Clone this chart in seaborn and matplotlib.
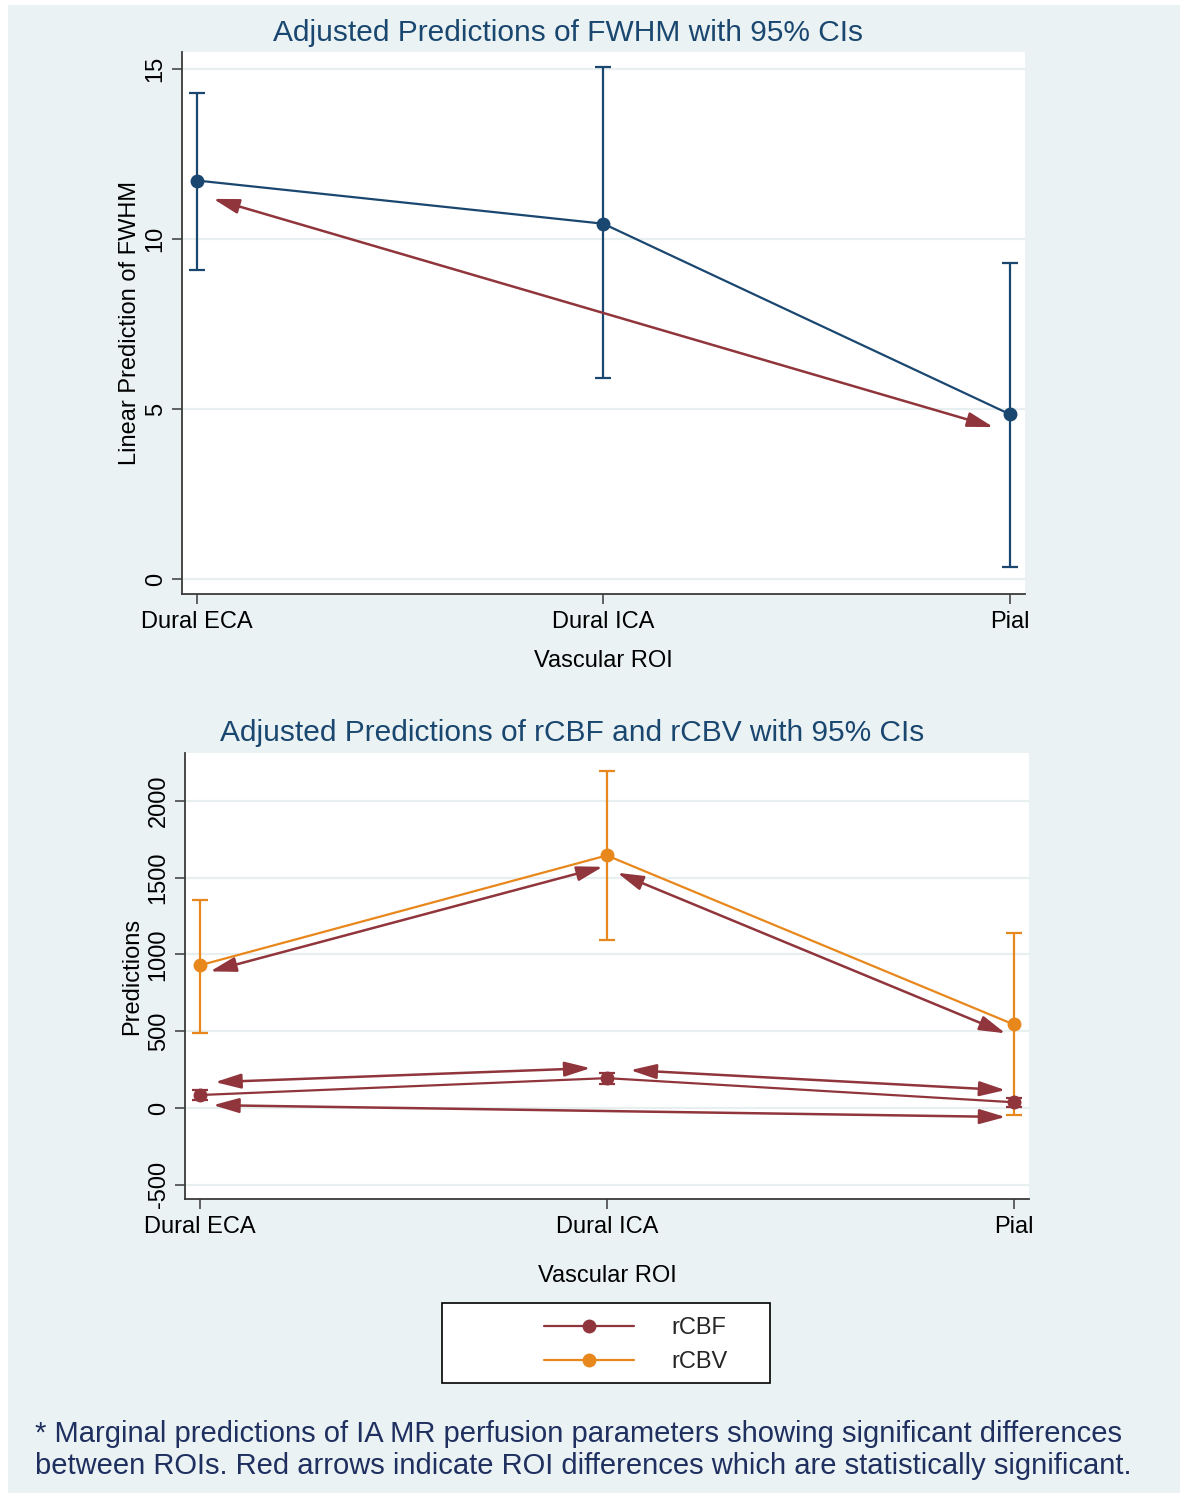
import numpy as np
import pandas as pd
import matplotlib
matplotlib.use("Agg")
import matplotlib.pyplot as plt
import seaborn as sns
from matplotlib.patches import Rectangle
from matplotlib.lines import Line2D

# ---------------- data ----------------
rois = ["Dural ECA", "Dural ICA", "Pial"]

fwhm_pred = [11.72, 10.45, 4.85]
fwhm_lo = [9.1, 5.9, 0.35]
fwhm_hi = [14.3, 15.05, 9.3]

rcbf_pred = [85, 195, 38]
rcbf_lo = [55, 160, 10]
rcbf_hi = [115, 230, 66]

rcbv_pred = [930, 1645, 545]
rcbv_lo = [492, 1092, -45]
rcbv_hi = [1358, 2195, 1143]

# significant-difference arrows (start, end) in data units (x = ROI index)
fwhm_arrows = [((0.04, 11.18), (1.96, 4.47))]
perf_arrows = [
    ((0.025, 890), (0.99, 1571)),
    ((1.026, 1532), (1.98, 487)),
    ((0.037, 169), (0.96, 260)),
    ((1.058, 247), (1.98, 117)),
    ((0.032, 19), (1.98, -58)),
]

fwhm_yticks = [0, 5, 10, 15]
perf_yticks = [-500, 0, 500, 1000, 1500, 2000]

title1 = "Adjusted Predictions of FWHM with 95% CIs"
title2 = "Adjusted Predictions of rCBF and rCBV with 95% CIs"
caption = ("* Marginal predictions of IA MR perfusion parameters showing significant differences\n"
           "between ROIs. Red arrows indicate ROI differences which are statistically significant.")

# ---------------- style ----------------
NAVY = "#1a476f"
CRAN = "#90353b"
ORANGE = "#e8871b"
BG = "#eaf2f3"
GRID = "#e8eff1"
SPINE = "#3a3a3a"

sns.set_theme(style="white")
plt.rcParams["font.family"] = ["Liberation Sans", "DejaVu Sans"]
FS = 17

W, H = 1186, 1498
fig = plt.figure(figsize=(W / 100, H / 100), dpi=100, facecolor="white")
fig.patches.append(Rectangle((8 / W, 5 / H), (1180 - 8) / W, (1493 - 5) / H,
                             transform=fig.transFigure, facecolor=BG,
                             edgecolor="none", zorder=-5))


def ax_rect(l, t, r, b):
    return [l / W, 1 - b / H, (r - l) / W, (b - t) / H]


ax1 = fig.add_axes(ax_rect(182, 52, 1025, 594))
ax2 = fig.add_axes(ax_rect(185, 753, 1029, 1199))

xpos = np.arange(len(rois))


def style_axes(ax, yticks, ylim, ylabel, xlabelpad):
    ax.set_facecolor("white")
    ax.set_xlim(-0.037, 2.038)
    ax.set_ylim(*ylim)
    ax.set_yticks(yticks)
    ax.set_yticklabels([str(v) for v in yticks])
    ax.set_xticks(xpos)
    ax.set_xticklabels(rois)
    for lab in ax.get_yticklabels():
        lab.set_rotation(90)
        lab.set_verticalalignment("center")
    for y in yticks:
        ax.axhline(y, color=GRID, lw=1.6, zorder=0)
    for s in ["top", "right"]:
        ax.spines[s].set_visible(False)
    for s in ["left", "bottom"]:
        ax.spines[s].set_color(SPINE)
        ax.spines[s].set_linewidth(1.3)
    ax.tick_params(axis="both", which="major", direction="out", length=7,
                   width=1.1, color=SPINE, labelsize=FS, labelcolor="black",
                   left=True, bottom=True)
    ax.tick_params(axis="y", pad=4)
    ax.tick_params(axis="x", pad=5.5)
    ax.set_xlabel("Vascular ROI", fontsize=FS, color="black", labelpad=xlabelpad)
    ax.set_ylabel(ylabel, fontsize=FS, color="black", labelpad=3)
    ax.grid(False)


def draw_series(ax, pred, lo, hi, color, ms, z):
    df = pd.DataFrame({"x": xpos, "y": pred})
    sns.lineplot(data=df, x="x", y="y", ax=ax, color=color, lw=1.6,
                 marker="o", markersize=ms, markeredgewidth=0,
                 errorbar=None, zorder=z)
    pred = np.asarray(pred, float)
    yerr = [pred - np.asarray(lo, float), np.asarray(hi, float) - pred]
    ax.errorbar(xpos, pred, yerr=yerr, fmt="none", ecolor=color,
                elinewidth=1.6, capsize=6, capthick=1.6, zorder=z)


def draw_arrows(ax, arrows):
    for (x0, y0), (x1, y1) in arrows:
        ax.annotate("", xy=(x1, y1), xytext=(x0, y0),
                    arrowprops=dict(arrowstyle="<|-|>,head_length=1.05,head_width=0.3",
                                    mutation_scale=15, color=CRAN, lw=1.8,
                                    shrinkA=0, shrinkB=0), zorder=4)


# ---- panel 1 ----
draw_series(ax1, fwhm_pred, fwhm_lo, fwhm_hi, NAVY, 10, 3)
draw_arrows(ax1, fwhm_arrows)
style_axes(ax1, fwhm_yticks, (-0.44, 15.5), "Linear Prediction of FWHM", 12)

# ---- panel 2 ----
draw_series(ax2, rcbv_pred, rcbv_lo, rcbv_hi, ORANGE, 10, 3)
draw_series(ax2, rcbf_pred, rcbf_lo, rcbf_hi, CRAN, 10, 5)
draw_arrows(ax2, perf_arrows)
style_axes(ax2, perf_yticks, (-592, 2312), "Predictions", 19)

# titles
fig.text(568 / W, 1 - 33 / H, title1, ha="center", va="center",
         fontsize=21.5, color=NAVY)
fig.text(572 / W, 1 - 733 / H, title2, ha="center", va="center",
         fontsize=21.5, color=NAVY)

# legend
fig.patches.append(Rectangle((442 / W, 1 - 1383 / H), 328 / W, 80 / H,
                             transform=fig.transFigure, facecolor="white",
                             edgecolor="black", lw=1.2, zorder=1))
handles = [Line2D([], [], color=CRAN, lw=1.6, marker="o", markersize=10, markeredgewidth=0),
           Line2D([], [], color=ORANGE, lw=1.6, marker="o", markersize=10, markeredgewidth=0)]
fig.legend(handles, ["rCBF", "rCBV"], loc="center",
           bbox_to_anchor=(636 / W, 1 - 1345 / H), frameon=False,
           fontsize=FS, handlelength=3.8, handletextpad=1.6,
           labelspacing=0.5, borderpad=0)

# caption
fig.text(35 / W, 1 - 1450 / H, caption, ha="left", va="center",
         fontsize=21, color="#1f2f5f", linespacing=1.22)

fig.savefig("out.png", dpi=100, facecolor="white")
